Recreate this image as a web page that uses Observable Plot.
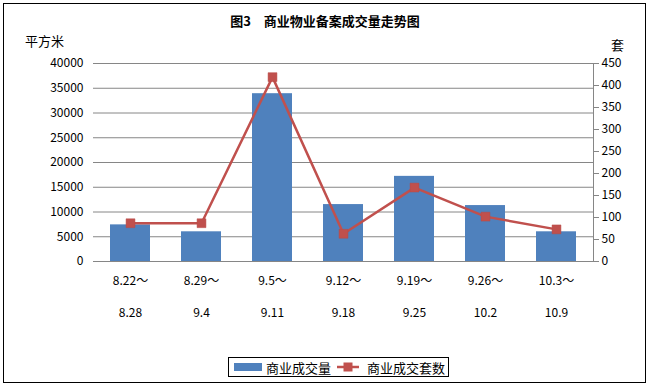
<!DOCTYPE html>
<html><head><meta charset="utf-8">
<script src="https://cdn.jsdelivr.net/npm/d3@7"></script>
<script src="https://cdn.jsdelivr.net/npm/@observablehq/plot@0.6"></script>
<style>
body{margin:0;background:#fff;}
#wrap{position:relative;width:650px;height:386px;font-family:"Noto Sans CJK SC",sans-serif;color:#000;overflow:hidden;}
#border{position:absolute;left:3px;top:3px;width:641px;height:378px;border:1px solid #000;}
#chart{position:absolute;left:0;top:0;}
.lbl{position:absolute;white-space:nowrap;line-height:1;}
#title{left:0;width:650px;top:14px;text-align:center;font-weight:bold;font-size:13px;}
#yl{left:25px;top:34px;font-size:13px;}
#yr{left:611px;top:38px;font-size:13px;}
#legend{position:absolute;left:228px;top:357px;width:219px;height:18px;border:1px solid #000;background:#fff;font-size:13px;display:flex;align-items:center;}
.sw{display:inline-block;}
</style></head><body>
<div id="wrap">
  <div id="border"></div>
  <div id="chart"></div>
  <div class="lbl" id="title">图3　商业物业备案成交量走势图</div>
  <div class="lbl" id="yl">平方米</div>
  <div class="lbl" id="yr">套</div>
  <div id="legend">
    <span class="sw" style="margin-left:5px;width:28px;height:8px;background:#4F81BD"></span>
    <span style="margin-left:4px">商业成交量</span>
    <svg width="22" height="12" style="margin-left:6px"><line x1="0" y1="6" x2="22" y2="6" stroke="#C0504D" stroke-width="2.5"/><rect x="6.5" y="1.5" width="9" height="9" fill="#C0504D"/></svg>
    <span style="margin-left:8px">商业成交套数</span>
  </div>
</div>
<script>
const periodStart = ["8.22～", "8.29～", "9.5～", "9.12～", "9.19～", "9.26～", "10.3～"];
const periodEnd = ["8.28", "9.4", "9.11", "9.18", "9.25", "10.2", "10.9"];
const area = [7400, 6000, 33900, 11500, 17200, 11300, 6000];
const units = [87, 87, 419, 63, 168, 102, 73];
const leftTicks = [0, 5000, 10000, 15000, 20000, 25000, 30000, 35000, 40000];
const rightTicks = [0, 50, 100, 150, 200, 250, 300, 350, 400, 450];

const leftMax = 40000, rightMax = 450;
const toLeft = v => v * leftMax / rightMax;
const data = periodStart.map((p, i) => ({period: p, area: area[i], units: units[i]}));

const chart = Plot.plot({
  width: 650, height: 386,
  marginTop: 63, marginBottom: 125, marginLeft: 93, marginRight: 57,
  style: {fontFamily: '"Noto Sans CJK SC", sans-serif', fontSize: "12px", background: "transparent", color: "#000"},
  x: {type: "band", domain: periodStart, paddingInner: 0.43, paddingOuter: 0.215},
  y: {domain: [0, leftMax]},
  marks: [
    Plot.gridY(leftTicks, {stroke: "#868686", strokeOpacity: 1}),
    Plot.barY(data, {x: "period", y: "area", fill: "#4F81BD"}),
    Plot.ruleY([0], {stroke: "#868686"}),
    Plot.frame({anchor: "right", stroke: "#868686"}),
    Plot.lineY(data, {x: "period", y: d => toLeft(d.units), stroke: "#C0504D", strokeWidth: 2.5}),
    Plot.dot(data, {x: "period", y: d => toLeft(d.units), symbol: "square", r: 5, fill: "#C0504D", stroke: "#B94A47", strokeWidth: 0.5}),
    Plot.axisY(leftTicks, {anchor: "left", tickSize: 0, tickPadding: 10, tickFormat: d => String(d), label: null}),
    Plot.axisY(rightTicks.map(toLeft), {anchor: "right", tickSize: 5, stroke: "#868686", tickPadding: 3, tickFormat: d => String(Math.round(d * rightMax / leftMax)), label: null}),
    Plot.axisX({tickSize: 0, tickPadding: 0, lineHeight: 2.7, tickFormat: (d) => d + "\n" + periodEnd[periodStart.indexOf(d)], label: null})
  ]
});
document.getElementById("chart").appendChild(chart);
</script>
</body></html>
